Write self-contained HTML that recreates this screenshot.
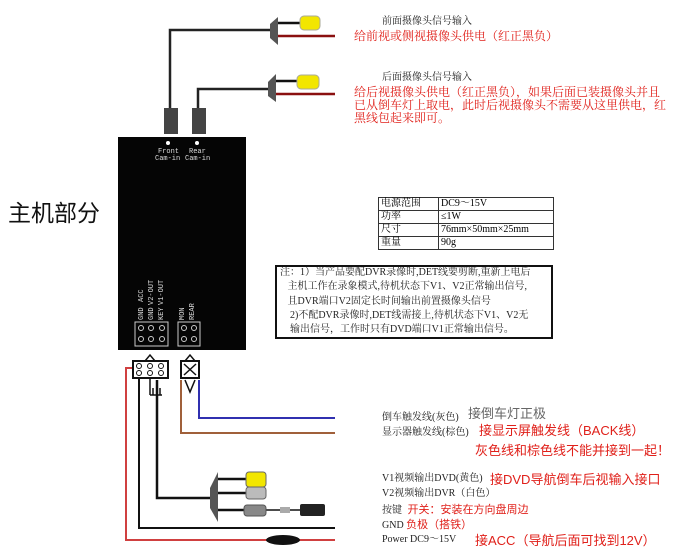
<!DOCTYPE html>
<html><head><meta charset="utf-8"><style>
body{margin:0;background:#fff;width:700px;height:556px;overflow:hidden;position:relative;font-family:"Liberation Serif","Noto Serif CJK SC","Noto Sans CJK SC",serif;}
.t{position:absolute;white-space:nowrap;font-size:10px;line-height:12px;color:#222;}
.r{color:#e0201a;}
.s{font-family:"Liberation Sans","Noto Sans CJK SC",sans-serif;}
.b{font-size:13px;line-height:15px;}
table{position:absolute;left:378px;top:197px;border-collapse:collapse;font-size:10px;}
td{border:1px solid #333;height:12px;padding:0 2px;line-height:12px;}
</style></head><body>
<svg width="700" height="556" style="position:absolute;left:0;top:0">
<g fill="none" stroke-width="2.5">
<polyline points="170,112 170,30 270,30" stroke="#222"/>
<polyline points="198,112 198,89 268,89" stroke="#222"/>
<line x1="276" y1="23" x2="302" y2="23" stroke="#111"/>
<line x1="276" y1="36" x2="335" y2="36" stroke="#8a1010"/>
<line x1="274" y1="81" x2="298" y2="81" stroke="#111"/>
<line x1="274" y1="94" x2="335" y2="94" stroke="#8a1010"/>
<polyline points="133,368 126,368 126,540 335,540" stroke="#d04040" stroke-width="2"/>
<polyline points="139,368 139,528 335,528" stroke="#111" stroke-width="2"/>
<polyline points="157,380 157,498 212,498" stroke="#111"/>
<polyline points="181,380 181,433 335,433" stroke="#a0603a" stroke-width="2"/>
<polyline points="199,380 199,418 335,418" stroke="#3030b0" stroke-width="2"/>
<line x1="218" y1="479" x2="246" y2="479" stroke="#111"/>
<line x1="218" y1="493" x2="246" y2="493" stroke="#111"/>
<line x1="218" y1="510" x2="244" y2="510" stroke="#111"/>
<line x1="266" y1="510" x2="300" y2="510" stroke="#111" stroke-width="1.5"/>
</g>
<polygon points="270,24 278,17 278,45 270,38" fill="#555"/>
<polygon points="268,82 276,74 276,102 268,96" fill="#555"/>
<rect x="300" y="16" width="20" height="14" rx="4" fill="#f2e600" stroke="#aa9"/>
<rect x="297" y="75" width="22" height="14" rx="4" fill="#f2e600" stroke="#aa9"/>
<rect x="164" y="108" width="14" height="26" fill="#444"/>
<rect x="192" y="108" width="14" height="26" fill="#444"/>
<rect x="118" y="137" width="128" height="213" fill="#050505"/>
<circle cx="168" cy="143" r="2" fill="#fff"/><circle cx="197" cy="143" r="2" fill="#fff"/>
<g fill="#ddd" font-size="7" font-family="Liberation Mono,monospace">
<text x="158" y="153">Front</text><text x="155" y="160">Cam-in</text>
<text x="189" y="153">Rear</text><text x="185" y="160">Cam-in</text>
<text transform="translate(143,320) rotate(-90)">GND</text><text transform="translate(143,302) rotate(-90)">ACC</text>
<text transform="translate(153,320) rotate(-90)">GND</text><text transform="translate(153,305) rotate(-90)">V2-OUT</text>
<text transform="translate(163,320) rotate(-90)">KEY</text><text transform="translate(163,305) rotate(-90)">V1-OUT</text>
<text transform="translate(184,320) rotate(-90)">MON</text><text transform="translate(194,320) rotate(-90)">REAR</text>
</g>
<g fill="none" stroke="#ccc" stroke-width="1">
<rect x="135" y="322" width="33" height="24"/><rect x="178" y="322" width="22" height="24"/>
<circle cx="141" cy="328" r="2.5"/><circle cx="151" cy="328" r="2.5"/><circle cx="162" cy="328" r="2.5"/>
<circle cx="141" cy="339" r="2.5"/><circle cx="151" cy="339" r="2.5"/><circle cx="162" cy="339" r="2.5"/>
<circle cx="184" cy="328" r="2.5"/><circle cx="194" cy="328" r="2.5"/><circle cx="184" cy="339" r="2.5"/><circle cx="194" cy="339" r="2.5"/>
</g>
<rect x="133" y="361" width="35" height="17" fill="#fff" stroke="#111" stroke-width="2"/>
<g fill="none" stroke="#111" stroke-width="1">
<circle cx="139" cy="366" r="2.5"/><circle cx="150" cy="366" r="2.5"/><circle cx="161" cy="366" r="2.5"/>
<circle cx="139" cy="373" r="2.5"/><circle cx="150" cy="373" r="2.5"/><circle cx="161" cy="373" r="2.5"/>
</g>
<path d="M145,361 L150,355 L155,361" fill="none" stroke="#111" stroke-width="1.5"/>
<rect x="181" y="361" width="18" height="17" fill="#fff" stroke="#111" stroke-width="2"/>
<path d="M184,364 L196,375 M196,364 L184,375" stroke="#111" stroke-width="1.5"/>
<path d="M185,361 L190,355 L195,361 M185,380 L190,392 L195,380" fill="none" stroke="#111" stroke-width="1.5"/>
<path d="M150,378 V395 M153,388 V395 M160,388 V395 M150,395 H162" stroke="#111" stroke-width="1.5" fill="none"/>
<polygon points="210,488 218,472 218,522 210,508" fill="#555"/>
<rect x="246" y="472" width="20" height="15" rx="3" fill="#f2e600" stroke="#666"/>
<rect x="246" y="487" width="20" height="12" rx="3" fill="#bbb" stroke="#666"/>
<rect x="244" y="505" width="22" height="11" rx="3" fill="#888" stroke="#555"/>
<rect x="280" y="507" width="10" height="6" fill="#aaa"/>
<rect x="300" y="504" width="25" height="12" rx="2" fill="#222"/>
<ellipse cx="283" cy="540" rx="17" ry="5" fill="#111"/>
<rect x="276" y="266" width="276" height="72" fill="none" stroke="#111" stroke-width="2"/>
</svg>
<div class="t" style="left:8px;top:196px;font-size:23px;line-height:30px;font-family:'Noto Sans CJK SC',sans-serif;color:#111">主机部分</div>
<div class="t" style="left:382px;top:16px">前面摄像头信号输入</div>
<div class="t r" style="left:354px;top:30px;font-size:12px;line-height:13px">给前视或侧视摄像头供电（红正黑负）</div>
<div class="t" style="left:382px;top:72px">后面摄像头信号输入</div>
<div class="t r" style="left:354px;top:86px;font-size:12px;line-height:13px">给后视摄像头供电（红正黑负），如果后面已装摄像头并且<br>已从倒车灯上取电，此时后视摄像头不需要从这里供电，红<br>黑线包起来即可。</div>
<table><tr><td style="width:55px">电源范围</td><td style="width:110px">DC9～15V</td></tr><tr><td>功率</td><td>≤1W</td></tr><tr><td>尺寸</td><td>76mm×50mm×25mm</td></tr><tr><td>重量</td><td>90g</td></tr></table>
<div class="t" style="left:280px;top:266px;line-height:14.3px;font-size:10px">注：1）当产品要配DVR录像时,DET线要剪断,重新上电后<br>&nbsp;&nbsp;&nbsp;主机工作在录象模式,待机状态下V1、V2正常输出信号,<br>&nbsp;&nbsp;&nbsp;且DVR端口V2固定长时间输出前置摄像头信号<br>&nbsp;&nbsp;&nbsp;&nbsp;2)不配DVR录像时,DET线需接上,待机状态下V1、V2无<br>&nbsp;&nbsp;&nbsp;&nbsp;输出信号，工作时只有DVD端口V1正常输出信号。</div>
<div class="t" style="left:382px;top:412px">倒车触发线(灰色)</div>
<div class="t s b" style="left:468px;top:406px;color:#666">接倒车灯正极</div>
<div class="t" style="left:382px;top:427px">显示器触发线(棕色)</div>
<div class="t r s b" style="left:479px;top:423px">接显示屏触发线（BACK线）</div>
<div class="t r s b" style="left:475px;top:443px">灰色线和棕色线不能并接到一起！</div>
<div class="t" style="left:382px;top:473px">V1视频输出DVD(黄色)</div>
<div class="t r s b" style="left:490px;top:472px">接DVD导航倒车后视输入接口</div>
<div class="t" style="left:382px;top:488px">V2视频输出DVR（白色）</div>
<div class="t" style="left:382px;top:504px">按键 <span class="r s" style="font-size:11px">&nbsp;开关：安装在方向盘周边</span></div>
<div class="t" style="left:382px;top:519px">GND <span class="r s" style="font-size:11px">负极（搭铁）</span></div>
<div class="t" style="left:382px;top:534px">Power DC9～15V</div>
<div class="t r s b" style="left:475px;top:533px">接ACC（导航后面可找到12V）</div>
</body></html>
